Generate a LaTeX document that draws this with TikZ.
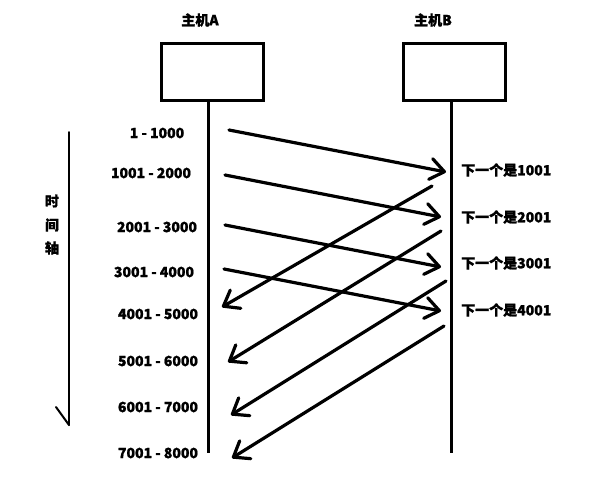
\documentclass[tikz,border=0pt]{standalone}
\usepackage{fontspec}
\setmainfont{Noto Sans CJK SC}[BoldFeatures={FakeBold=1.2}]
\usetikzlibrary{arrows.meta}
\tikzset{
  lbl/.style={font=\bfseries\fontsize{14}{16}\selectfont, inner sep=0pt},
  hostbox/.style={draw, line width=3pt, minimum width=102pt, minimum height=57pt, inner sep=0pt},
  lifeline/.style={line width=3pt},
  msg/.style={line width=3.2pt, line cap=round, line join=round,
    -{Straight Barb[length=14pt,width=21pt,line cap=round,line join=round]}},
  axisline/.style={line width=2pt, line cap=round}
}
\begin{document}
\begin{tikzpicture}[x=1pt,y=-1pt]
\useasboundingbox[fill=white] (0,0) rectangle (600,491);

% hosts
\node[hostbox] (boxA) at (212,71.5) {};
\node[hostbox] (boxB) at (454.5,71.5) {};
\node[lbl] (hA) at (200,20) {主机A};
\node[lbl] (hB) at (433,20) {主机B};

% lifelines
\coordinate (Atop) at (208,101);
\coordinate (Abot) at (208,453);
\coordinate (Btop) at (451,101);
\coordinate (Bbot) at (451,453);
\draw[lifeline] (Atop) -- (Abot);
\draw[lifeline] (Btop) -- (Bbot);

% time axis
\coordinate (T0) at (69,132);
\coordinate (T1) at (69,425);
\coordinate (Tb) at (56,407);
\draw[axisline] (T0) -- (T1);
\draw[axisline] (Tb) -- (T1);
\node[lbl] (t1) at (52,201) {时};
\node[lbl] (t2) at (52,225) {间};
\node[lbl] (t3) at (52,248) {轴};

% left labels
\node[lbl] (s1) at (157,133) {1 - 1000};
\node[lbl] (s2) at (151,173) {1001 - 2000};
\node[lbl] (s3) at (157,227) {2001 - 3000};
\node[lbl] (s4) at (154,272) {3001 - 4000};
\node[lbl] (s5) at (158,314) {4001 - 5000};
\node[lbl] (s6) at (158,361) {5001 - 6000};
\node[lbl] (s7) at (158,407) {6001 - 7000};
\node[lbl] (s8) at (158,453) {7001 - 8000};

% right labels
\node[lbl, anchor=west] (r1) at (461,170) {下一个是1001};
\node[lbl, anchor=west] (r2) at (461,217) {下一个是2001};
\node[lbl, anchor=west] (r3) at (461,263) {下一个是3001};
\node[lbl, anchor=west] (r4) at (461,310) {下一个是4001};

% data segments A -> B
\coordinate (a1) at (229,130);  \coordinate (b1) at (446,172);
\coordinate (a2) at (225,175);  \coordinate (b2) at (441,217);
\coordinate (a3) at (225,225);  \coordinate (b3) at (441,267);
\coordinate (a4) at (224,269);  \coordinate (b4) at (441,311);
\draw[msg] (a1) -- (b1);
\draw[msg] (a2) -- (b2);
\draw[msg] (a3) -- (b3);
\draw[msg] (a4) -- (b4);

% acks B -> A
\coordinate (c1) at (432,186);  \coordinate (d1) at (222,307);
\coordinate (c2) at (441,231);  \coordinate (d2) at (228,362);
\coordinate (c3) at (446,281);  \coordinate (d3) at (231,415);
\coordinate (c4) at (444,326);  \coordinate (d4) at (232,458);
\draw[msg] (c1) -- (d1);
\draw[msg] (c2) -- (d2);
\draw[msg] (c3) -- (d3);
\draw[msg] (c4) -- (d4);
\end{tikzpicture}
\end{document}
